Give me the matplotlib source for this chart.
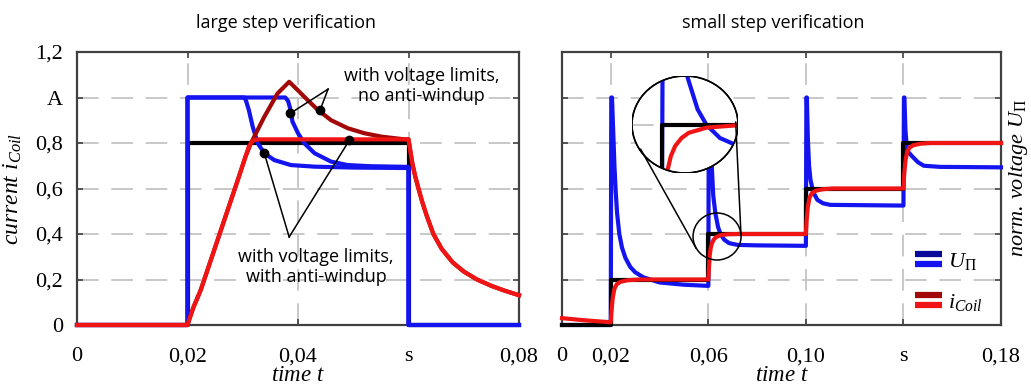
import numpy as np
import matplotlib
matplotlib.use("Agg")
import matplotlib.pyplot as plt
from matplotlib.lines import Line2D
from matplotlib.patches import Ellipse
from matplotlib.legend_handler import HandlerBase

# ---------------- data: large step verification ----------------
L_ref_t = [0, 0.02, 0.02, 0.06, 0.06, 0.08]
L_ref_v = [0, 0, 0.8, 0.8, 0, 0]

L_blue_aw_t = [0, 0.02, 0.02, 0.0303, 0.0306, 0.0311, 0.0318, 0.0327, 0.0339, 0.0357,
               0.0387, 0.0430, 0.0500, 0.0600, 0.0600, 0.0800]
L_blue_aw_v = [0, 0, 1.0, 1.0, 0.985, 0.945, 0.872, 0.80, 0.755, 0.725,
               0.703, 0.696, 0.692, 0.690, 0, 0]

L_blue_nw_t = [0, 0.02, 0.02, 0.0377, 0.0382, 0.0386, 0.0390, 0.0400, 0.0411, 0.0430,
               0.0460, 0.0490, 0.0530, 0.0600, 0.0600, 0.0800]
L_blue_nw_v = [0, 0, 1.0, 1.0, 0.985, 0.95, 0.894, 0.843, 0.80, 0.755,
               0.718, 0.703, 0.698, 0.695, 0, 0]

L_red_t = [0, 0.02, 0.0204, 0.0211, 0.0224, 0.0291, 0.0305, 0.0311, 0.0316, 0.0320,
           0.0330, 0.0400, 0.0600, 0.0603, 0.0607, 0.0612, 0.0618, 0.0625, 0.0633,
           0.0645, 0.0660, 0.0680, 0.0700, 0.0724, 0.0750, 0.0775, 0.0800]
L_red_v = [0, 0, 0.03, 0.079, 0.154, 0.637, 0.74, 0.785, 0.803, 0.812,
           0.816, 0.816, 0.816, 0.77, 0.71, 0.655, 0.60, 0.54, 0.48,
           0.40, 0.335, 0.275, 0.235, 0.20, 0.172, 0.15, 0.131]

L_dred_t = [0, 0.02, 0.0204, 0.0211, 0.0224, 0.0291, 0.0305, 0.0315, 0.0339, 0.0363,
            0.0384, 0.0398, 0.0411, 0.0436, 0.0460, 0.0490, 0.0520, 0.0551, 0.0593,
            0.0600, 0.0603, 0.0607, 0.0612, 0.0618, 0.0625, 0.0633, 0.0645, 0.0660,
            0.0680, 0.0700, 0.0724, 0.0750, 0.0775, 0.0800]
L_dred_v = [0, 0, 0.03, 0.079, 0.154, 0.637, 0.74, 0.80, 0.915, 1.018,
            1.069, 1.036, 1.004, 0.945, 0.90, 0.865, 0.843, 0.828, 0.816,
            0.816, 0.77, 0.71, 0.655, 0.60, 0.54, 0.48, 0.40, 0.335,
            0.275, 0.235, 0.20, 0.172, 0.15, 0.131]

# annotation points (time, value)
nw_dots_t = [0.0386, 0.0440]
nw_dots_v = [0.93, 0.945]
nw_apex = (0.04545, 1.037)
aw_dots_t = [0.0339, 0.0493]
aw_dots_v = [0.755, 0.812]
aw_apex = (0.0384, 0.387)

# ---------------- data: small step verification ----------------
R_ref_t = [0, 0.02, 0.02, 0.06, 0.06, 0.10, 0.10, 0.14, 0.14, 0.18]
R_ref_v = [0, 0, 0.2, 0.2, 0.4, 0.4, 0.6, 0.6, 0.8, 0.8]

R_blue_t = [0, 0.02, 0.0202, 0.0205, 0.0210, 0.0215, 0.0220, 0.0226, 0.0235, 0.0246,
            0.0260, 0.0280, 0.0300, 0.0333, 0.0400, 0.0500, 0.0600,
            0.0602, 0.0605, 0.0610, 0.0615, 0.0620, 0.0629, 0.0640, 0.0650, 0.0665,
            0.0685, 0.0720, 0.0800, 0.1000,
            0.1002, 0.1004, 0.1008, 0.1013, 0.1019, 0.1030, 0.1047, 0.1070, 0.1100, 0.1400,
            0.1402, 0.1404, 0.1408, 0.1413, 0.1420, 0.1437, 0.1460, 0.1484, 0.1550, 0.1800]
R_blue_v = [0, 0, 1.0, 1.0, 0.85, 0.70, 0.59, 0.49, 0.40, 0.34,
            0.295, 0.255, 0.232, 0.21, 0.187, 0.177, 0.172,
            1.0, 1.0, 0.80, 0.68, 0.57, 0.49, 0.43, 0.40, 0.375,
            0.36, 0.352, 0.35, 0.348,
            1.0, 1.0, 0.82, 0.70, 0.637, 0.585, 0.55, 0.535, 0.528, 0.525,
            1.0, 1.0, 0.86, 0.79, 0.76, 0.74, 0.715, 0.70, 0.695, 0.693]

R_red_t = [0, 0.01, 0.02, 0.0203, 0.0208, 0.0215, 0.0225, 0.0240, 0.0270, 0.0320,
           0.0600, 0.0603, 0.0606, 0.0610, 0.0615, 0.0622, 0.0630, 0.0650, 0.0680, 0.0720,
           0.1000, 0.1003, 0.1008, 0.1015, 0.1025, 0.1040, 0.1070, 0.1110,
           0.1400, 0.1403, 0.1408, 0.1415, 0.1425, 0.1440, 0.1470, 0.1510, 0.1800]
R_red_v = [0.03, 0.02, 0.012, 0.06, 0.12, 0.16, 0.18, 0.19, 0.197, 0.2,
           0.2, 0.26, 0.31, 0.34, 0.36, 0.375, 0.385, 0.395, 0.399, 0.4,
           0.4, 0.46, 0.52, 0.56, 0.58, 0.59, 0.597, 0.6,
           0.6, 0.66, 0.72, 0.76, 0.78, 0.79, 0.797, 0.8, 0.8]

# zoom region (small circle) and inset limits
zoom_center = (0.06357, 0.389)
inset_xlim = (0.05667, 0.06851)
inset_ylim = (0.308, 0.494)

L_xticks = [0, 0.02, 0.04, 0.06, 0.08]
L_xticklabels = ["0", "0,02", "0,04", "s", "0,08"]
R_xticks = [0, 0.02, 0.06, 0.10, 0.14, 0.18]
R_xticklabels = ["0", "0,02", "0,06", "0,10", "s", "0,18"]
yticks = [0, 0.2, 0.4, 0.6, 0.8, 1.0, 1.2]
yticklabels = ["0", "0,2", "0,4", "0,6", "0,8", "A", "1,2"]

# ---------------- style ----------------
BLUE = "#1414f0"
RED = "#f01414"
DRED = "#a30808"
DBLUE = "#0a0a9a"
BLACK = "#000000"
FRAME = "#404040"
GRID = "#c4c4c4"
LW = 3.0

plt.rcParams["mathtext.fontset"] = "custom"
plt.rcParams["mathtext.it"] = "Liberation Serif:italic"
plt.rcParams["mathtext.rm"] = "Liberation Serif"
plt.rcParams["mathtext.bf"] = "Liberation Serif:bold"

SANS = ["Open Sans", "DejaVu Sans"]
SERIF = "Liberation Serif"

W, H = 1031, 390
fig = plt.figure(figsize=(W / 100, H / 100), dpi=100)


def px_axes(x0, y0, x1, y1):
    return fig.add_axes([x0 / W, 1 - y1 / H, (x1 - x0) / W, (y1 - y0) / H])


axL = px_axes(77, 52, 519, 325)
axR = px_axes(562, 52, 1001, 325)


def style_axes(ax, xticks, xlabels, ylabels):
    ax.set_ylim(0, 1.2)
    ax.set_xticks(xticks)
    ax.set_xticklabels(xlabels, family=SERIF, fontsize=16)
    ax.set_yticks(yticks)
    if ylabels:
        ax.set_yticklabels(yticklabels, family=SERIF, fontsize=16)
    else:
        ax.set_yticklabels([])
    ax.tick_params(direction="in", length=4, width=1.2, color=FRAME,
                   top=True, right=True, pad=10)
    ax.tick_params(axis="x", pad=16)
    for s in ax.spines.values():
        s.set_color(FRAME)
        s.set_linewidth(1.6)
    ax.grid(True, color=GRID, lw=1.3, linestyle=(0, (12, 7)))
    ax.set_axisbelow(True)
    ax.set_xlabel("time $t$", fontsize=16.5, family=SERIF, style="italic", labelpad=-1)


# ---------------- left panel ----------------
axL.set_xlim(0, 0.08)
style_axes(axL, L_xticks, L_xticklabels, True)
axL.set_ylabel("current $i_{Coil}$", fontsize=17, family=SERIF, style="italic", labelpad=8)

kw = dict(lw=LW, clip_on=False, solid_joinstyle="round")
axL.plot(L_ref_t, L_ref_v, color=BLACK, zorder=2.5, **kw)
axL.plot(L_blue_nw_t, L_blue_nw_v, color=BLUE, zorder=3, **kw)
axL.plot(L_blue_aw_t, L_blue_aw_v, color=BLUE, zorder=3, **kw)
axL.plot(L_dred_t, L_dred_v, color=DRED, zorder=5, **kw)
axL.plot(L_red_t, L_red_v, color=RED, zorder=6, **kw)

for dt, dv in zip(nw_dots_t, nw_dots_v):
    axL.plot([nw_apex[0], dt], [nw_apex[1], dv], color="black", lw=1.1, zorder=7)
for dt, dv in zip(aw_dots_t, aw_dots_v):
    axL.plot([aw_apex[0], dt], [aw_apex[1], dv], color="black", lw=1.1, zorder=7)
axL.plot(nw_dots_t, nw_dots_v, "o", color="black", ms=6, zorder=8)
axL.plot(aw_dots_t, aw_dots_v, "o", color="black", ms=6, zorder=8)

axL.text(0.0624, 1.05, "with voltage limits,\nno anti-windup", ha="center", va="center",
         family=SANS, fontsize=13, linespacing=1.15, zorder=9)
axL.text(0.0433, 0.253, "with voltage limits,\nwith anti-windup", ha="center", va="center",
         family=SANS, fontsize=13, linespacing=1.15, zorder=9)

# ---------------- right panel ----------------
axR.set_xlim(0, 0.18)
style_axes(axR, R_xticks, R_xticklabels, False)

axR.plot(R_blue_t, R_blue_v, color=BLUE, zorder=3, **kw)
axR.plot(R_ref_t, R_ref_v, color=BLACK, zorder=4, **kw)
axR.plot(R_red_t, R_red_v, color=RED, zorder=5, **kw)

# small zoom circle (48 px wide)
pxx = 0.18 / (1001 - 562)
pxy = 1.2 / (325 - 52)
axR.add_patch(Ellipse(zoom_center, 48 * pxx, 47 * pxy, fill=False, ec="black", lw=1.1, zorder=8))


# legend with stacked colour bars
class StackedHandler(HandlerBase):
    def __init__(self, colors):
        super().__init__()
        self.colors = colors

    def create_artists(self, legend, orig_handle, xdescent, ydescent, width, height,
                       fontsize, trans):
        arts = []
        for frac, c in zip([0.78, 0.22], self.colors):
            y = -ydescent + height * frac
            l = Line2D([-xdescent, -xdescent + width], [y, y], color=c, lw=4.5,
                       solid_capstyle="butt")
            l.set_transform(trans)
            arts.append(l)
        return arts


hU = Line2D([], [], color=BLUE)
hI = Line2D([], [], color=RED)
leg = axR.legend([hU, hI], [r"$U_{\Pi}$", r"$i_{Coil}$"],
                 handler_map={hU: StackedHandler([DBLUE, BLUE]),
                              hI: StackedHandler([DRED, RED])},
                 loc="upper left", bbox_to_anchor=((915 - 562) / 439, (325 - 250) / 273),
                 frameon=False, fontsize=16, handlelength=1.2, handleheight=0.9,
                 handletextpad=0.3, labelspacing=0.85, borderpad=0, borderaxespad=0)

# inset (big circle)
IX0, IY0, IX1, IY1 = 632, 76, 738, 173
axI = px_axes(IX0, IY0, IX1, IY1)
axI.set_xlim(*inset_xlim)
axI.set_ylim(*inset_ylim)
axI.axis("off")
circ = Ellipse((0.5, 0.5), 1, 1, transform=axI.transAxes, fc="white", ec="black",
               lw=1.1, zorder=1)
axI.add_patch(circ)
gl = axI.axhline(0.4, color=GRID, lw=1.3, linestyle=(0, (12, 7)), zorder=2)
gl.set_clip_path(circ)
for tt, vv, cc, zz in [(R_blue_t, R_blue_v, BLUE, 3), (R_ref_t, R_ref_v, BLACK, 4),
                       (R_red_t, R_red_v, RED, 5)]:
    ln, = axI.plot(tt, vv, color=cc, lw=LW, zorder=zz)
    ln.set_clip_path(circ)
edge = Ellipse((0.5, 0.5), 1, 1, transform=axI.transAxes, fill=False, ec="black",
               lw=1.1, zorder=6)
axI.add_patch(edge)

# tangent connector lines between the two circles (pixel space, y up)
c1 = np.array([(IX0 + IX1) / 2, H - (IY0 + IY1) / 2])
r1 = ((IX1 - IX0) + (IY1 - IY0)) / 4
c2 = axR.transData.transform(zoom_center)
r2 = 24
d = c2 - c1
D = np.hypot(*d)
th = np.arctan2(d[1], d[0])
phi = np.arccos((r1 - r2) / D)
for sgn in (1, -1):
    n = np.array([np.cos(th + sgn * phi), np.sin(th + sgn * phi)])
    p1 = c1 + r1 * n
    p2 = c2 + r2 * n
    fig.add_artist(Line2D([p1[0] / W, p2[0] / W], [p1[1] / H, p2[1] / H],
                          color="black", lw=1.1, transform=fig.transFigure, zorder=7))

# titles and right label
fig.text(286 / W, 1 - 23 / H, "large step verification", ha="center", va="center",
         family=SANS, fontsize=13)
fig.text(773 / W, 1 - 23 / H, "small step verification", ha="center", va="center",
         family=SANS, fontsize=13)
fig.text(1019 / W, 1 - 178 / H, r"norm. voltage $U_{\Pi}$", rotation=90, ha="center",
         va="center", family=SERIF, style="italic", fontsize=16)

fig.savefig("out.png", dpi=100)
